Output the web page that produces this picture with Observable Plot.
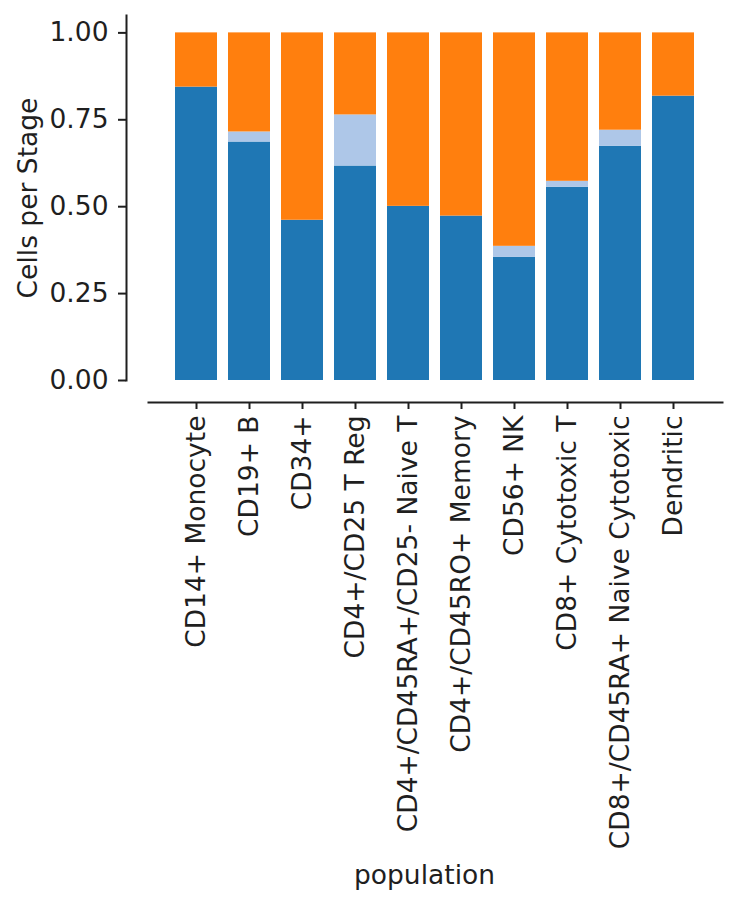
<!DOCTYPE html>
<html>
<head>
<meta charset="utf-8">
<script src="https://cdn.jsdelivr.net/npm/d3@7"></script>
<script src="https://cdn.jsdelivr.net/npm/@observablehq/plot@0.6"></script>
<style>
  html, body { margin: 0; padding: 0; background: #fff; }
</style>
</head>
<body>
<div id="chart"></div>
<script>
const populations = [
  "CD14+ Monocyte",
  "CD19+ B",
  "CD34+",
  "CD4+/CD25 T Reg",
  "CD4+/CD45RA+/CD25- Naive T",
  "CD4+/CD45RO+ Memory",
  "CD56+ NK",
  "CD8+ Cytotoxic T",
  "CD8+/CD45RA+ Naive Cytotoxic",
  "Dendritic"
];
const stages = ["Stage 1", "Stage 2", "Stage 3"];
const stageColors = ["#1f77b4", "#aec7e8", "#ff7f0e"];
const stage1 = [0.844, 0.686, 0.461, 0.617, 0.501, 0.473, 0.354, 0.556, 0.674, 0.818];
const stage2 = [0.000, 0.029, 0.000, 0.147, 0.000, 0.000, 0.032, 0.017, 0.046, 0.000];
const stage3 = [0.156, 0.285, 0.539, 0.236, 0.499, 0.527, 0.614, 0.427, 0.280, 0.182];
const yTicks = [0, 0.25, 0.5, 0.75, 1.0];
const yDomain = [0, 1.05];
const yLabel = "Cells per Stage";
const xLabel = "population";

const series = [stage1, stage2, stage3];
const rows = [];
populations.forEach((p, i) => {
  stages.forEach((s, k) => rows.push({population: p, stage: s, value: series[k][i]}));
});

const ink = "#1f1f1f";
const font = "DejaVu Sans";
const fs = 26.5;

const chart = Plot.plot({
  width: 738,
  height: 905,
  marginLeft: 126,
  marginRight: 16,
  marginTop: 15,
  marginBottom: 503,
  style: {fontFamily: font, fontSize: fs + "px", color: ink, background: "#fff"},
  x: {domain: populations, paddingInner: 0.2, paddingOuter: 0.5, insetLeft: 22},
  y: {domain: yDomain, insetBottom: 22},
  color: {domain: stages, range: stageColors},
  marks: [
    Plot.barY(rows, Plot.stackY({order: stages}, {x: "population", y: "value", fill: "stage"})),
    Plot.frame({anchor: "left", insetBottom: 22, stroke: ink, strokeWidth: 2}),
    Plot.frame({anchor: "bottom", insetLeft: 22, stroke: ink, strokeWidth: 2}),
    Plot.axisY({
      ticks: yTicks, tickFormat: d3.format(".2f"), tickSize: 8, tickPadding: 10,
      strokeWidth: 2, stroke: ink, fill: ink, fontSize: fs, fontFamily: font,
      label: null
    }),
    Plot.text([yLabel], {
      text: d => d, y: [(yDomain[0] + yDomain[1]) / 2], frameAnchor: "left",
      textAnchor: "middle", lineAnchor: "middle",
      rotate: -90, dx: -98, fill: ink, fontSize: fs, fontFamily: font
    }),
    Plot.axisX({
      tickRotate: -90, tickSize: 7, tickPadding: 6,
      strokeWidth: 2, stroke: ink, fill: ink, fontSize: fs, fontFamily: font,
      label: xLabel, labelAnchor: "center", labelArrow: "none", labelOffset: 481
    })
  ]
});
document.getElementById("chart").appendChild(chart);
</script>
</body>
</html>
